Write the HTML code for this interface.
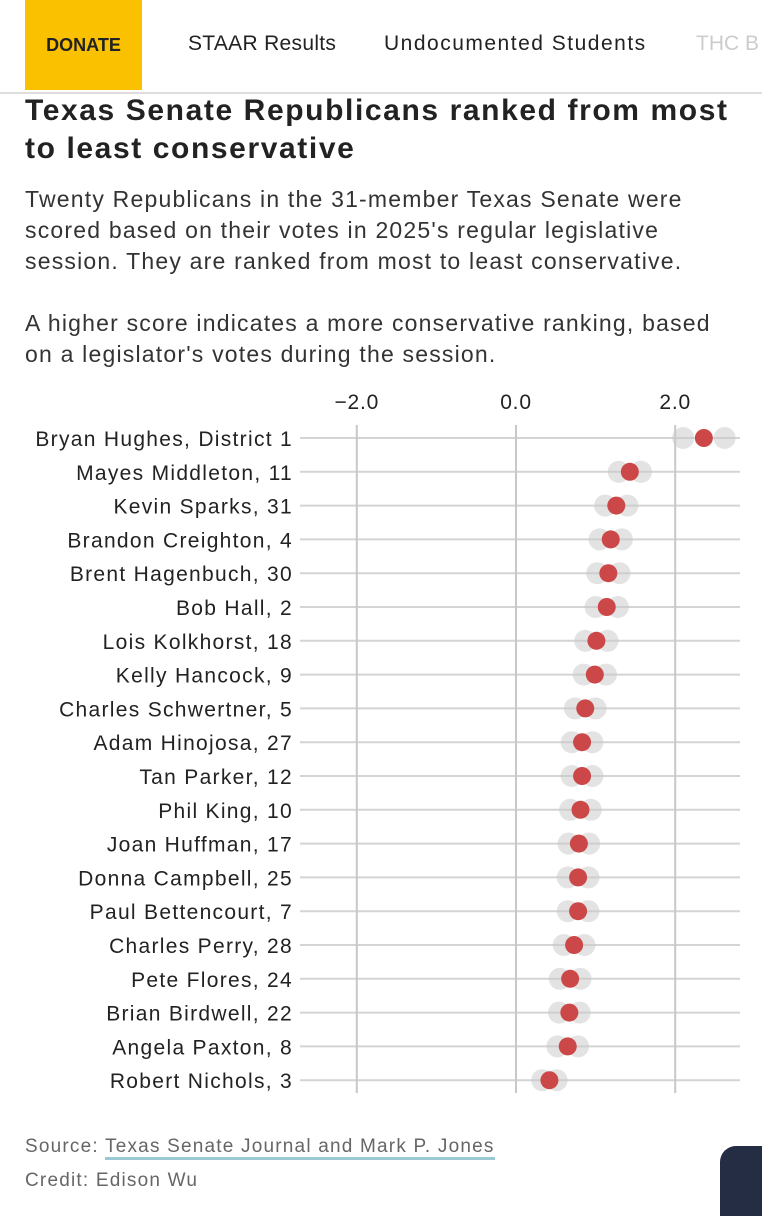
<!DOCTYPE html>
<html><head><meta charset="utf-8">
<style>
body{margin:0;width:762px;height:1200px;background:#fff;font-family:"Liberation Sans",sans-serif;overflow:hidden;position:relative}
.nav{position:absolute;left:0;top:0;width:762px;height:92px;border-bottom:2px solid #ddd;background:#fff}
.donate{position:absolute;left:25px;top:0;width:117px;height:90px;background:#f9c100;color:#222;font-weight:bold;font-size:18px;display:flex;align-items:center;justify-content:center}
.navitem{position:absolute;top:32px;font-size:21px;color:#222;white-space:nowrap}
h1{position:absolute;left:25px;top:92px;margin:0;font-size:30px;letter-spacing:1.6px;line-height:38px;color:#222;font-weight:bold;white-space:nowrap}
.desc{position:absolute;left:25px;font-size:23px;letter-spacing:1.2px;line-height:31px;color:#333;white-space:nowrap}
.foot{position:absolute;left:25px;font-size:19px;letter-spacing:1.2px;color:#666}
</style></head><body>
<div class="nav">
  <div class="donate">DONATE</div>
  <div class="navitem" style="left:188px;letter-spacing:0.3px">STAAR Results</div>
  <div class="navitem" style="left:384px;letter-spacing:1.5px">Undocumented Students</div>
  <div class="navitem" style="left:696px;color:#ccc">THC B</div>
</div>
<h1>Texas Senate Republicans ranked from most<br>to least conservative</h1>
<div class="desc" style="top:184px">Twenty Republicans in the 31-member Texas Senate were<br>scored based on their votes in 2025's regular legislative<br>session. They are ranked from most to least conservative.</div>
<div class="desc" style="top:308px">A higher score indicates a more conservative ranking, based<br>on a legislator's votes during the session.</div>
<svg id="chart" width="762" height="720" style="position:absolute;left:0;top:380px"></svg>
<div class="foot" style="top:1136px">Source: <span style="border-bottom:3px solid #9cc8d2">Texas Senate Journal and Mark P. Jones</span></div>
<div class="foot" style="top:1170px">Credit: Edison Wu</div>
<div style="position:absolute;left:720px;top:1146px;width:60px;height:70px;background:#252d44;border-radius:16px 0 0 0"></div>
<script>
const names=["Bryan Hughes, District 1","Mayes Middleton, 11","Kevin Sparks, 31","Brandon Creighton, 4","Brent Hagenbuch, 30","Bob Hall, 2","Lois Kolkhorst, 18","Kelly Hancock, 9","Charles Schwertner, 5","Adam Hinojosa, 27","Tan Parker, 12","Phil King, 10","Joan Huffman, 17","Donna Campbell, 25","Paul Bettencourt, 7","Charles Perry, 28","Pete Flores, 24","Brian Birdwell, 22","Angela Paxton, 8","Robert Nichols, 3"];
const scores=[2.36,1.43,1.26,1.19,1.16,1.14,1.01,0.99,0.87,0.83,0.83,0.81,0.79,0.78,0.78,0.73,0.68,0.67,0.65,0.42];
const lows=[2.1,1.29,1.12,1.05,1.02,1.0,0.87,0.85,0.74,0.70,0.70,0.68,0.66,0.65,0.65,0.60,0.55,0.54,0.52,0.33];
const highs=[2.62,1.57,1.40,1.33,1.30,1.28,1.15,1.13,1.0,0.96,0.96,0.94,0.92,0.91,0.91,0.86,0.81,0.80,0.78,0.51];
const ticks=[-2,0,2];
const tickLabels=["\u22122.0","0.0","2.0"];
const NS="http://www.w3.org/2000/svg";
const svg=document.getElementById('chart');
const x=v=>516+v*79.6;
const y=i=>58+i*33.8;
function mk(t,a){const e=document.createElementNS(NS,t);for(const k in a)e.setAttribute(k,a[k]);svg.appendChild(e);return e;}
names.forEach((n,i)=>{
  const l=mk('line',{x1:300,x2:740,y1:y(i),y2:y(i),stroke:'#d4d4d4','stroke-width':2});
  
  
  const t=mk('text',{x:293,y:y(i)+8,'text-anchor':'end','font-size':21,'letter-spacing':1.3,fill:'#222','font-family':'Liberation Sans, sans-serif'});
  t.textContent=n;
  
  
});
ticks.forEach((v,i)=>{
  const l=mk('line',{x1:x(v),x2:x(v),y1:45,y2:713,stroke:'#c8c8c8','stroke-width':2});
  
  
  const t=mk('text',{x:x(v),y:29,'text-anchor':'middle','font-size':21,'letter-spacing':0.8,fill:'#222','font-family':'Liberation Sans, sans-serif'});
  t.textContent=tickLabels[i];
  
  
});
names.forEach((n,i)=>{
  [lows[i],highs[i]].forEach(v=>{
    const c=mk('circle',{cx:x(v),cy:y(i),r:11,fill:'rgba(200,200,200,0.5)'});
    
    
  });
  const d=mk('circle',{cx:x(scores[i]),cy:y(i),r:9,fill:'#cc4848'});
  
  
});
</script>
</body></html>
